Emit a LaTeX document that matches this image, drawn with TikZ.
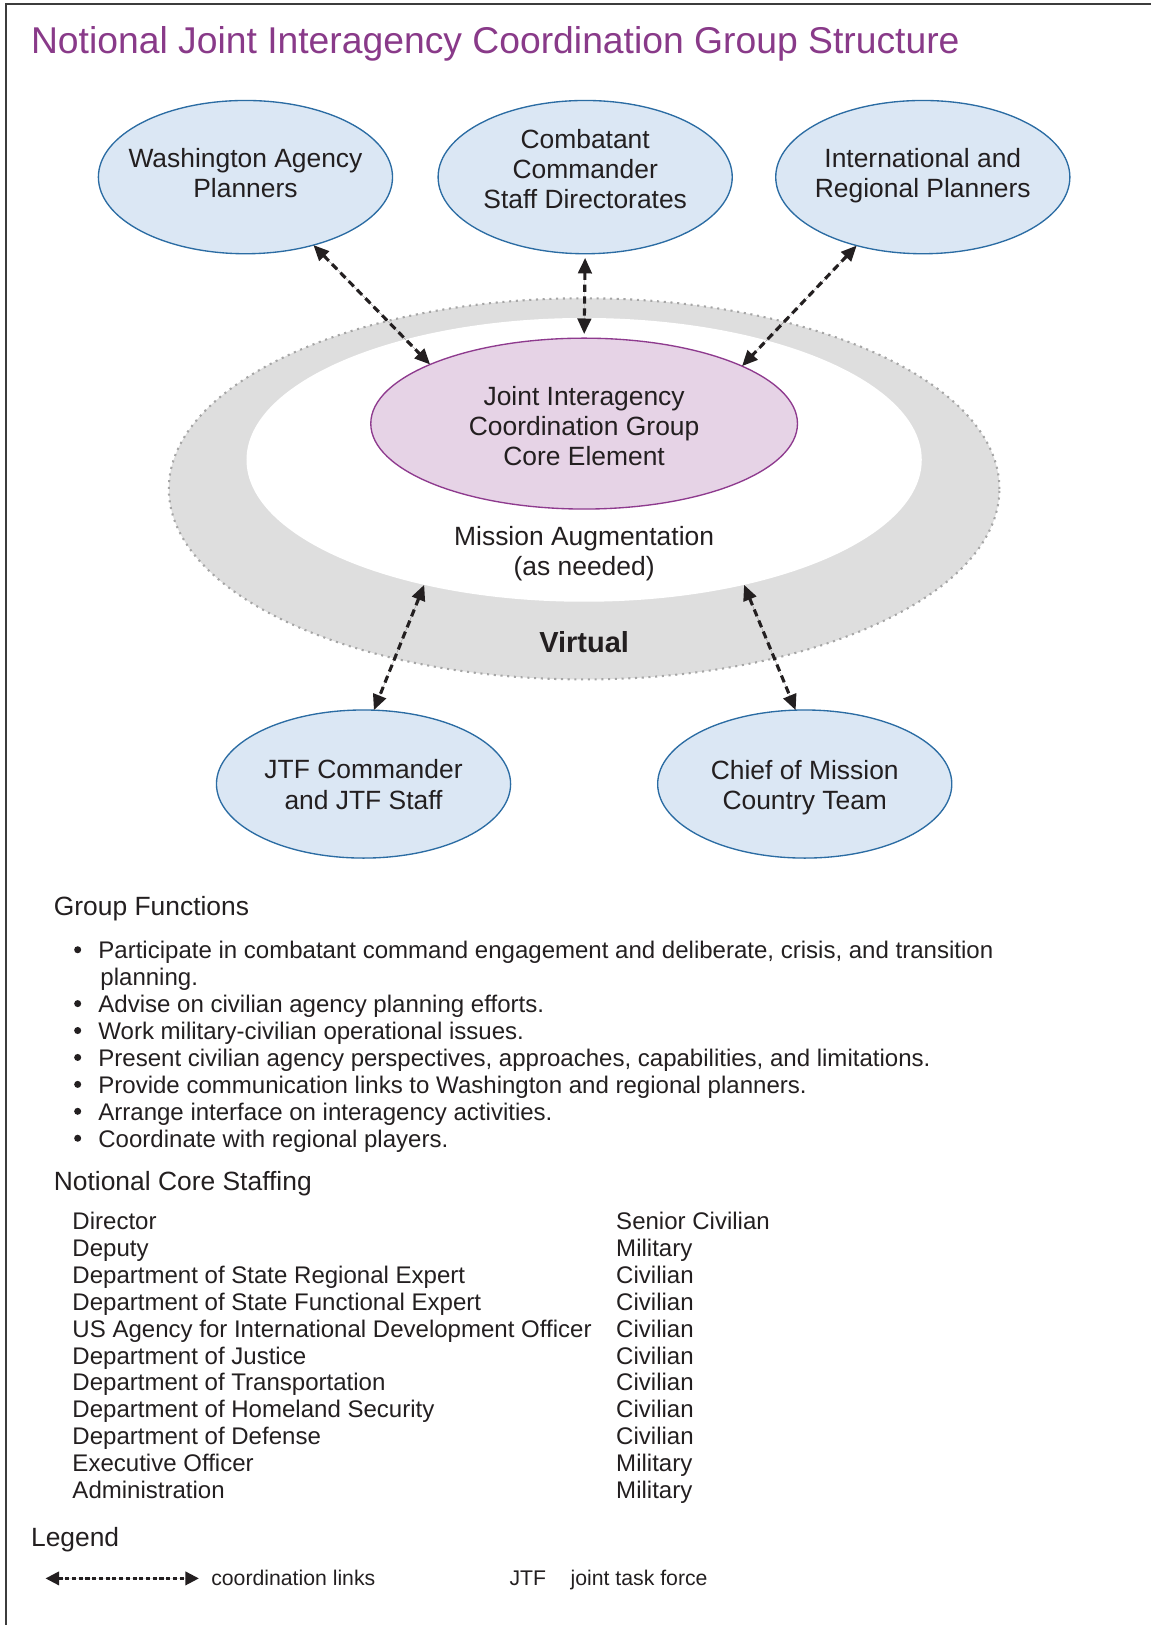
\documentclass[tikz,border=0pt]{standalone}
\usepackage{fontspec}
\setmainfont{Liberation Sans}
\usetikzlibrary{arrows.meta,shapes.geometric}
\definecolor{titlepurple}{RGB}{137,58,137}
\definecolor{bluefill}{RGB}{219,231,244}
\definecolor{blueline}{RGB}{43,108,163}
\definecolor{corefill}{RGB}{230,211,230}
\definecolor{coreline}{RGB}{142,58,142}
\definecolor{ringfill}{RGB}{222,222,222}
\definecolor{ringline}{RGB}{165,165,165}
\definecolor{ink}{RGB}{35,31,32}
\definecolor{framecol}{RGB}{60,60,60}
\begin{document}
\begin{tikzpicture}[x=1pt,y=-1pt,
  every node/.style={inner sep=0pt, outer sep=0pt, text=ink},
  blueell/.style={ellipse, draw=blueline, fill=bluefill, line width=1.3pt, minimum width=284pt, minimum height=148pt},
  coreell/.style={ellipse, draw=coreline, fill=corefill, line width=1.3pt, minimum width=412pt, minimum height=165pt},
  elltext/.style={align=center, font=\fontsize{25.5}{29}\selectfont},
  heading/.style={anchor=base west, font=\fontsize{25.5}{29}\selectfont},
  bodytext/.style={anchor=base west, font=\fontsize{23.2}{26}\selectfont},
  bulletmark/.style={circle, fill=ink, minimum size=6.8pt},
  legendtext/.style={anchor=base west, font=\fontsize{20.5}{24}\selectfont},
  linkarrow/.style={{Triangle[length=15pt,width=13pt]}-{Triangle[length=15pt,width=13pt]}, draw=ink, fill=ink, line width=3pt, dash pattern=on 7pt off 4.5pt},
  legendarrow/.style={{Triangle[length=13pt,width=13pt]}-{Triangle[length=13pt,width=13pt]}, draw=ink, fill=ink, line width=2.2pt, dash pattern=on 4pt off 2.5pt}
]
\useasboundingbox (0,0) rectangle (1111,1569);
% frame
\draw[framecol, line width=2pt] (6,1569) -- (6,4) -- (1111,4);

% title
\node[anchor=west, font=\fontsize{36}{40}\selectfont, text=titlepurple] (title) at (30,42) {Notional Joint Interagency Coordination Group Structure};

% virtual ring
\node[ellipse, minimum width=802pt, minimum height=368pt, fill=ringfill, draw=ringline, line width=2pt, dash pattern=on 2pt off 4.5pt] (ring) at (564,472) {};
\node[ellipse, minimum width=652pt, minimum height=274pt, fill=white] (inner) at (564,444) {};

% ellipses
\node[blueell] (wash) at (237,171) {};
\node[blueell] (cc) at (565,171) {};
\node[blueell] (intl) at (891,171) {};
\node[coreell] (core) at (564,409) {};
\node[blueell, minimum height=143pt] (jtf) at (351,757) {};
\node[blueell, minimum height=143pt] (com) at (777,757) {};

\node[elltext] (washtext) at (237,167.5) {Washington Agency\\Planners};
\node[elltext] (cctext) at (565,163.5) {Combatant\\Commander\\Staff Directorates};
\node[elltext] (intltext) at (891,169.5) {International and\\Regional Planners};
\node[elltext] (coretext) at (564,411) {Joint Interagency\\Coordination Group\\Core Element};
\node[elltext] (jtftext) at (351,757.5) {JTF Commander\\and JTF Staff};
\node[elltext] (comtext) at (777,760.5) {Chief of Mission\\Country Team};
\node[elltext] (mission) at (564,534.5) {Mission Augmentation\\(as needed)};
\node[font=\fontsize{28}{32}\selectfont\bfseries] (virtual) at (564,620) {Virtual};

% coordination links
\draw[linkarrow] (wash.-45) -- (core.159.6);
\draw[linkarrow, shorten <=4pt, shorten >=4pt] (cc.south) -- (core.north);
\draw[linkarrow] (intl.226.8) -- (core.20.6);
\draw[linkarrow] (inner.218.9) -- (jtf.82);
\draw[linkarrow] (inner.-38.7) -- (com.97);

% group functions
\node[heading] (gf) at (52,883.5) {Group Functions};
\foreach \yy/\txt [count=\i] in {
  916/{Participate in combatant command engagement and deliberate, crisis, and transition},
  968/{Advise on civilian agency planning efforts.},
  994/{Work military-civilian operational issues.},
  1020/{Present civilian agency perspectives, approaches, capabilities, and limitations.},
  1046/{Provide communication links to Washington and regional planners.},
  1072/{Arrange interface on interagency activities.},
  1098/{Coordinate with regional players.}}{
  \node[bulletmark] (b\i) at (75,\yy+1) {};
  \node[bodytext] (f\i) at (95,\yy+9.5) {\txt};
}
\node[bodytext] (f1b) at (97,951.5) {planning.};

% staffing
\node[heading] (ncs) at (52,1149) {Notional Core Staffing};
\foreach \role/\kind [count=\i from 0] in {
  Director/Senior Civilian,
  Deputy/Military,
  Department of State Regional Expert/Civilian,
  Department of State Functional Expert/Civilian,
  US Agency for International Development Officer/Civilian,
  Department of Justice/Civilian,
  Department of Transportation/Civilian,
  Department of Homeland Security/Civilian,
  Department of Defense/Civilian,
  Executive Officer/Military,
  Administration/Military}{
  \node[bodytext] (r\i) at (70,1187.5+25.9*\i) {\role};
  \node[bodytext] (k\i) at (595,1187.5+25.9*\i) {\kind};
}

% legend
\node[heading] (legend) at (30,1493.5) {Legend};
\coordinate (la) at (44,1524);
\coordinate (lb) at (192,1524);
\draw[legendarrow] (la) -- (lb);
\node[legendtext] (lt1) at (204,1530.5) {coordination links};
\node[legendtext] (lt2) at (492,1530.5) {JTF};
\node[legendtext] (lt3) at (551,1530.5) {joint task force};
\end{tikzpicture}
\end{document}
